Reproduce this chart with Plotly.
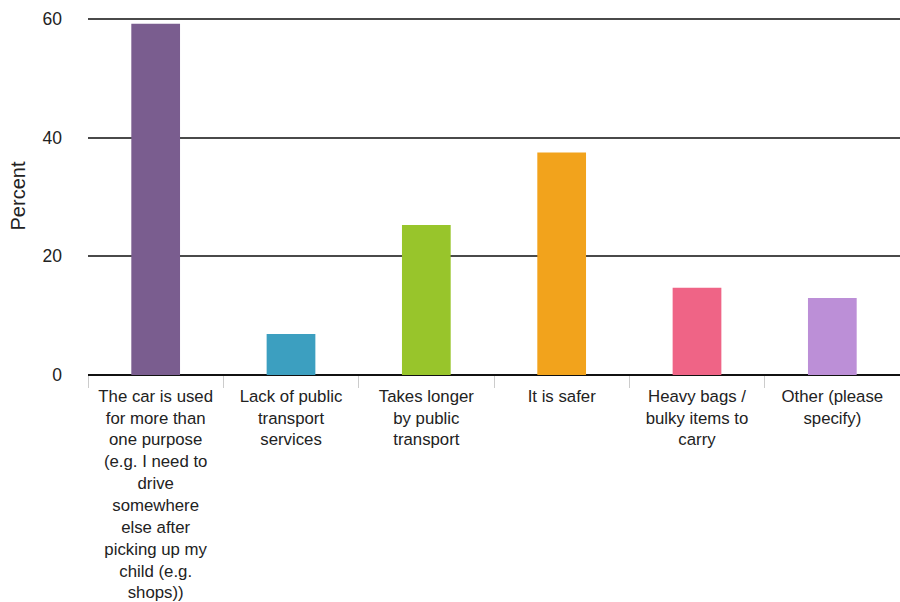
import plotly.graph_objects as go

categories = [
    "The car is used<br>for more than<br>one purpose<br>(e.g. I need to<br>drive<br>somewhere<br>else after<br>picking up my<br>child (e.g.<br>shops))",
    "Lack of public<br>transport<br>services",
    "Takes longer<br>by public<br>transport",
    "It is safer",
    "Heavy bags /<br>bulky items to<br>carry",
    "Other (please<br>specify)",
]
percent = [59.2, 6.9, 25.3, 37.5, 14.7, 13.0]
bar_colors = ["#7a5d8f", "#3c9fc0", "#98c52b", "#f2a31c", "#ef6486", "#bc8fd7"]
y_ticks = [0, 20, 40, 60]

fig = go.Figure(
    go.Bar(
        x=categories,
        y=percent,
        marker=dict(color=bar_colors, line=dict(width=0)),
        width=0.36,
    )
)

fig.update_layout(
    width=900,
    height=602,
    margin=dict(l=88, r=0, t=17, b=227),
    paper_bgcolor="white",
    plot_bgcolor="white",
    showlegend=False,
    font=dict(family="Liberation Sans, Arial, sans-serif", size=16, color="#222"),
)

fig.update_yaxes(
    range=[0, 60.35],
    tickvals=y_ticks,
    showgrid=True,
    gridcolor="#4a4a4a",
    gridwidth=2,
    zeroline=True,
    zerolinecolor="#111",
    zerolinewidth=2,
    ticks="",
    ticklabelstandoff=25,
    tickfont=dict(size=17.5),
    title=dict(text="Percent", font=dict(size=20), standoff=11),
    automargin=False,
    fixedrange=True,
)

fig.update_xaxes(
    showgrid=False,
    ticks="outside",
    tickson="boundaries",
    ticklen=12,
    tickcolor="#cccccc",
    tickwidth=1,
    tickangle=0,
    ticklabelstandoff=9,
    tickfont=dict(size=16.8),
    showline=False,
    automargin=False,
)

fig.write_html("out.html")
